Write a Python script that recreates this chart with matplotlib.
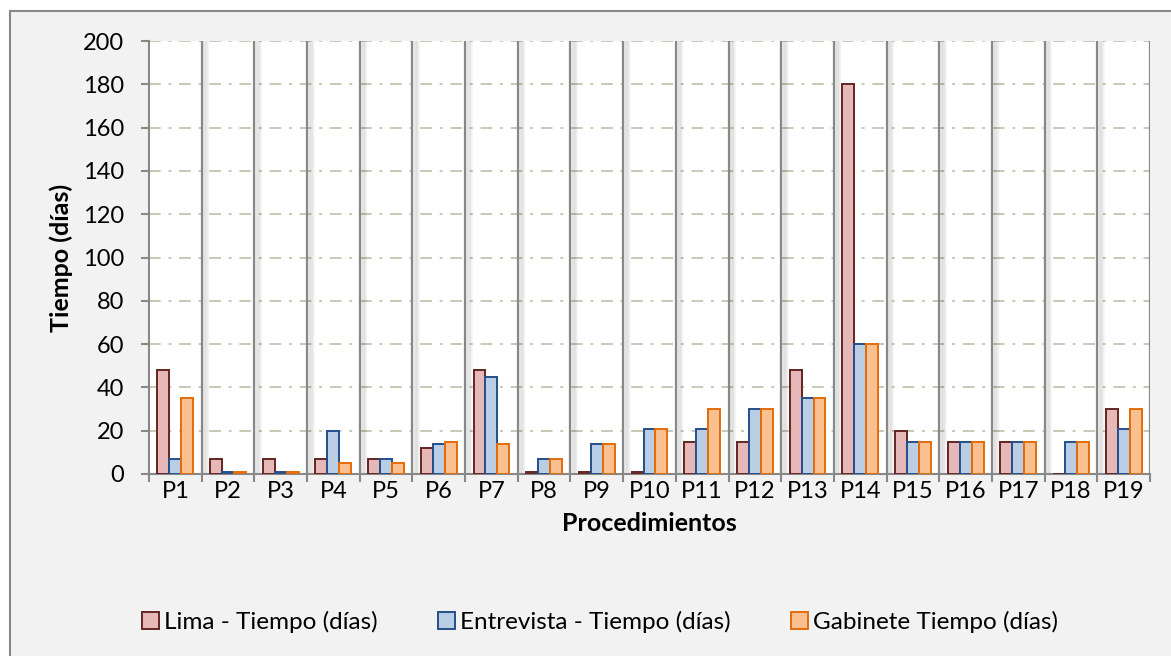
import numpy as np
import matplotlib
matplotlib.use("Agg")
import matplotlib.pyplot as plt
import matplotlib.patheffects as pe
from matplotlib.patches import Rectangle

# datos
procedimientos = ["P%d" % i for i in range(1, 20)]
lima = [48, 7, 7, 7, 7, 12, 48, 1, 1, 1, 15, 15, 48, 180, 20, 15, 15, 0, 30]
entrevista = [7, 1, 1, 20, 7, 14, 45, 7, 14, 21, 21, 30, 35, 60, 15, 15, 15, 15, 21]
gabinete = [35, 1, 1, 5, 5, 15, 14, 7, 14, 21, 30, 30, 35, 60, 15, 15, 15, 15, 30]
y_ticks = list(range(0, 201, 20))

series = [
    ("Lima - Tiempo (días)", lima, "#e6b9b8", "#632523"),
    ("Entrevista - Tiempo (días)", entrevista, "#b9cde5", "#254f8a"),
    ("Gabinete Tiempo (días)", gabinete, "#fac090", "#e46c0a"),
]

plt.rcParams["font.family"] = ["Lato", "DejaVu Sans"]

W, H = 1171, 656
fig = plt.figure(figsize=(W / 100, H / 100), dpi=100, facecolor="white")

# fondo del area del grafico
fig.patches.append(Rectangle((10 / W, -0.1), 1.2, 1 - 11 / H + 0.1,
                             transform=fig.transFigure, facecolor="#f2f2f2",
                             edgecolor="#898989", linewidth=1.5, zorder=-10))

ax = fig.add_axes([149 / W, (H - 474) / H, (1150 - 149) / W, (474 - 41) / H])
ax.set_facecolor("white")

x = np.arange(len(procedimientos))
w = 0.227
for k, (name, vals, fc, ec) in enumerate(series):
    ax.bar(x + (k - 1) * w, vals, w, color=fc, edgecolor=ec, linewidth=1.4,
           label=name, zorder=3)

ax.set_xlim(-0.5, len(procedimientos) - 0.5)
ax.set_ylim(0, 200)

# lineas horizontales punto-raya
for yv in y_ticks[1:]:
    ax.axhline(yv, color="#c6c9b5", linewidth=1.4, dashes=(6, 4, 1.5, 4), zorder=1)

# lineas verticales con sombra difusa
shadow = [pe.SimpleLineShadow(offset=(0.5 * i, -1), shadow_color="black",
                              alpha=0.022, linewidth=2.5)
          for i in range(1, 9)]
for b in np.arange(0.5, len(procedimientos), 1.0):
    ax.axvline(b, color="#888888", linewidth=1.6, zorder=2,
               path_effects=shadow + [pe.Normal()])

ax.set_yticks(y_ticks)
ax.set_xticks(x)
ax.set_xticklabels(procedimientos)
ax.set_xticks(np.arange(-0.5, len(procedimientos), 1.0), minor=True)
ax.tick_params(axis="x", which="major", length=0, pad=5, labelsize=17)
ax.tick_params(axis="x", which="minor", length=5.8, width=1.5, color="#888888")
ax.tick_params(axis="y", length=5.8, width=1.5, color="#888888", labelsize=17, pad=12)

for s in ["top", "right"]:
    ax.spines[s].set_visible(False)
for s in ["left", "bottom"]:
    ax.spines[s].set_color("#888888")
    ax.spines[s].set_linewidth(1.5)

ax.set_xlabel("Procedimientos", fontsize=18, fontweight="bold", labelpad=7)
ax.set_ylabel("Tiempo (días)", fontsize=18, fontweight="bold", labelpad=7)

fig.legend(loc="center", bbox_to_anchor=(600 / W, 1 - 622 / H), ncol=3,
           frameon=False, fontsize=17.5, handlelength=0.7, handleheight=0.7,
           handletextpad=0.2, columnspacing=2.5)

fig.savefig("out.png", dpi=100, facecolor=fig.get_facecolor())
